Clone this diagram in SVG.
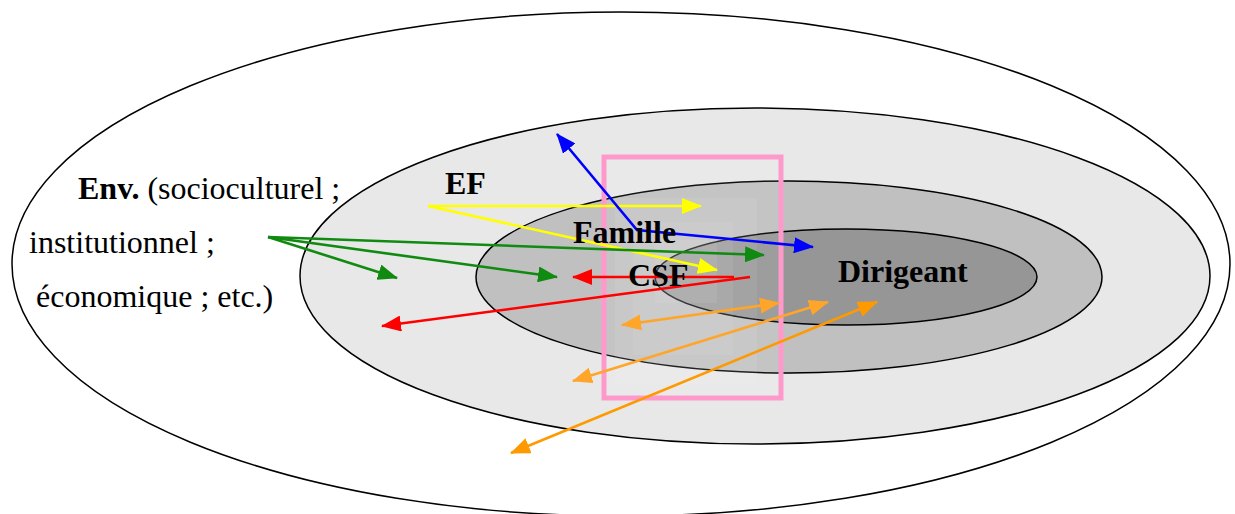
<svg xmlns="http://www.w3.org/2000/svg" width="1235" height="514" viewBox="0 0 1235 514">
<style>
.ring{stroke:#000;stroke-width:1.5}
.t{font-family:"Liberation Serif","Times New Roman",serif;font-size:32px;fill:#000}
.b{font-weight:bold}
.c{fill:none;stroke-width:2.6}
.glow{fill:#fff;fill-opacity:0.07;stroke:none}
</style>
<defs>
<marker id="mY" markerUnits="userSpaceOnUse" markerWidth="20" markerHeight="16" refX="19" refY="8" orient="auto-start-reverse"><path d="M0,0 L20,8 L0,16 z" fill="#ffff00"/></marker>
<marker id="mB" markerUnits="userSpaceOnUse" markerWidth="20" markerHeight="16" refX="19" refY="8" orient="auto-start-reverse"><path d="M0,0 L20,8 L0,16 z" fill="#0000ff"/></marker>
<marker id="mG" markerUnits="userSpaceOnUse" markerWidth="20" markerHeight="16" refX="19" refY="8" orient="auto-start-reverse"><path d="M0,0 L20,8 L0,16 z" fill="#108a10"/></marker>
<marker id="mR" markerUnits="userSpaceOnUse" markerWidth="20" markerHeight="16" refX="19" refY="8" orient="auto-start-reverse"><path d="M0,0 L20,8 L0,16 z" fill="#ff0000"/></marker>
<marker id="mO1" markerUnits="userSpaceOnUse" markerWidth="20" markerHeight="16" refX="19" refY="8" orient="auto-start-reverse"><path d="M0,0 L20,8 L0,16 z" fill="#ffa52a"/></marker>
<marker id="mO2" markerUnits="userSpaceOnUse" markerWidth="20" markerHeight="16" refX="19" refY="8" orient="auto-start-reverse"><path d="M0,0 L20,8 L0,16 z" fill="#ff9900"/></marker>
</defs>
<rect width="1235" height="514" fill="#fff"/>
<g id="env"><ellipse class="ring" cx="621" cy="264" rx="609" ry="252" fill="#fff"/></g>
<g id="ef"><ellipse class="ring" cx="755" cy="276" rx="455" ry="168" fill="#e8e8e8"/></g>
<g id="famille"><ellipse class="ring" cx="789" cy="277" rx="313" ry="96" fill="#c0c0c0"/></g>
<g id="dirigeant"><ellipse class="ring" cx="846" cy="277" rx="191" ry="48" fill="#969696"/></g>
<g id="csf">
<rect class="glow" x="604" y="157" width="177" height="241"/>
<rect class="glow" x="615" y="198" width="142" height="187"/>
<rect class="glow" x="633" y="222" width="100" height="133"/>
<rect class="glow" x="655" y="240" width="62" height="63"/>
<rect x="604" y="157" width="177" height="241" fill="none" stroke="#ff99cc" stroke-width="5"/>
</g>
<g id="connectors">
<path class="c" stroke="#ffff00" marker-end="url(#mY)" d="M428,206 L701,206"/>
<path class="c" stroke="#ffff00" marker-end="url(#mY)" d="M428,206 L717,270"/>
<path class="c" stroke="#0000ff" marker-start="url(#mB)" marker-end="url(#mB)" d="M557,134 L637,230 L813,247"/>
<path class="c" stroke="#108a10" marker-end="url(#mG)" d="M268,237 L397,278"/>
<path class="c" stroke="#108a10" marker-end="url(#mG)" d="M268,237 L557,277"/>
<path class="c" stroke="#108a10" marker-end="url(#mG)" d="M268,237 L764,255"/>
<path class="c" stroke="#ff0000" marker-end="url(#mR)" d="M734,277 L573,277"/>
<path class="c" stroke="#ff0000" marker-end="url(#mR)" d="M750,277 L382,326"/>
<path class="c" stroke="#ffa52a" marker-start="url(#mO1)" marker-end="url(#mO1)" d="M622,325 L779,303"/>
<path class="c" stroke="#ffa52a" marker-start="url(#mO1)" marker-end="url(#mO1)" d="M573,381 L828,302"/>
<path class="c" stroke="#ff9900" marker-start="url(#mO2)" marker-end="url(#mO2)" d="M511,453 L877,302"/>
</g>
<g id="labels">
<text class="t" x="78" y="199"><tspan class="b">Env.</tspan> (socioculturel ;</text>
<text class="t" x="29" y="253">institutionnel ;</text>
<text class="t" x="36" y="307">économique ; etc.)</text>
<text class="t b" x="445" y="194">EF</text>
<text class="t b" x="573" y="243">Famille</text>
<text class="t b" x="628" y="286">CSF</text>
<text class="t b" x="838" y="282">Dirigeant</text>
</g>
</svg>
